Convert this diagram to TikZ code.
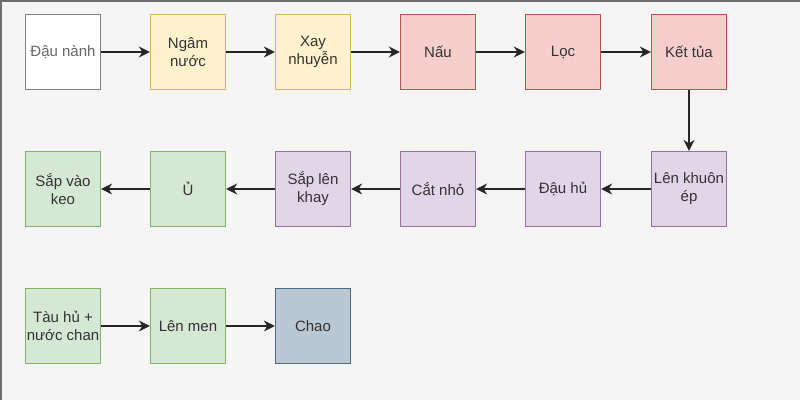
\documentclass[tikz,border=0pt]{standalone}
\usepackage{fontspec}
\setmainfont{Liberation Sans}
\usetikzlibrary{arrows.meta}
\definecolor{bg}{HTML}{F5F5F5}
\definecolor{frame}{HTML}{6E6E6E}
\definecolor{txt}{HTML}{333333}
\definecolor{graytxt}{HTML}{666666}
\definecolor{yfill}{HTML}{FFF2CC}\definecolor{ydraw}{HTML}{D6B656}
\definecolor{rfill}{HTML}{F8CECC}\definecolor{rdraw}{HTML}{B85450}
\definecolor{pfill}{HTML}{E1D5E7}\definecolor{pdraw}{HTML}{9673A6}
\definecolor{gfill}{HTML}{D5E8D4}\definecolor{gdraw}{HTML}{82B366}
\definecolor{bfill}{HTML}{BAC8D3}\definecolor{bdraw}{HTML}{4E6A85}
\definecolor{wdraw}{HTML}{808080}
\begin{document}
\begin{tikzpicture}[x=1pt,y=1pt,
  box/.style={draw, line width=1.25pt, minimum width=75pt, minimum height=75pt,
    inner sep=0pt, align=center, text=txt,
    font=\fontsize{15pt}{18pt}\selectfont},
  wbox/.style={box, draw=wdraw, fill=white, text=graytxt},
  ybox/.style={box, draw=ydraw, fill=yfill},
  rbox/.style={box, draw=rdraw, fill=rfill},
  pbox/.style={box, draw=pdraw, fill=pfill},
  gbox/.style={box, draw=gdraw, fill=gfill},
  bbox/.style={box, draw=bdraw, fill=bfill},
  flow/.style={draw=black!85, line width=1.5pt,
    -{Stealth[length=11pt,width=11pt,inset=3.5pt]}}]
\useasboundingbox (0,0) rectangle (800,400);
\fill[bg] (0,0) rectangle (800,400);
\draw[frame, line width=2.5pt] (1,0) -- (1,399) -- (800,399);
% row 1
\node[wbox] (a1) at (63,348) {Đậu nành};
\node[ybox] (a2) at (188,348) {Ngâm\\nước};
\node[ybox] (a3) at (313,348) {Xay\\nhuyễn};
\node[rbox] (a4) at (438,348) {Nấu};
\node[rbox] (a5) at (563,348) {Lọc};
\node[rbox] (a6) at (689,348) {Kết tủa};
% row 2
\node[pbox] (b6) at (689,211) {Lên khuôn\\ép};
\node[pbox] (b5) at (563,211) {Đậu hủ};
\node[pbox] (b4) at (438,211) {Cắt nhỏ};
\node[pbox] (b3) at (313,211) {Sắp lên\\khay};
\node[gbox] (b2) at (188,211) {Ủ};
\node[gbox] (b1) at (63,211) {Sắp vào\\keo};
% row 3
\node[gbox] (c1) at (63,74) {Tàu hủ +\\nước chan};
\node[gbox] (c2) at (188,74) {Lên men};
\node[bbox] (c3) at (313,74) {Chao};
% connectors
\draw[flow] (a1) -- (a2);
\draw[flow] (a2) -- (a3);
\draw[flow] (a3) -- (a4);
\draw[flow] (a4) -- (a5);
\draw[flow] (a5) -- (a6);
\draw[flow] (a6) -- (b6);
\draw[flow] (b6) -- (b5);
\draw[flow] (b5) -- (b4);
\draw[flow] (b4) -- (b3);
\draw[flow] (b3) -- (b2);
\draw[flow] (b2) -- (b1);
\draw[flow] (c1) -- (c2);
\draw[flow] (c2) -- (c3);
\end{tikzpicture}
\end{document}
